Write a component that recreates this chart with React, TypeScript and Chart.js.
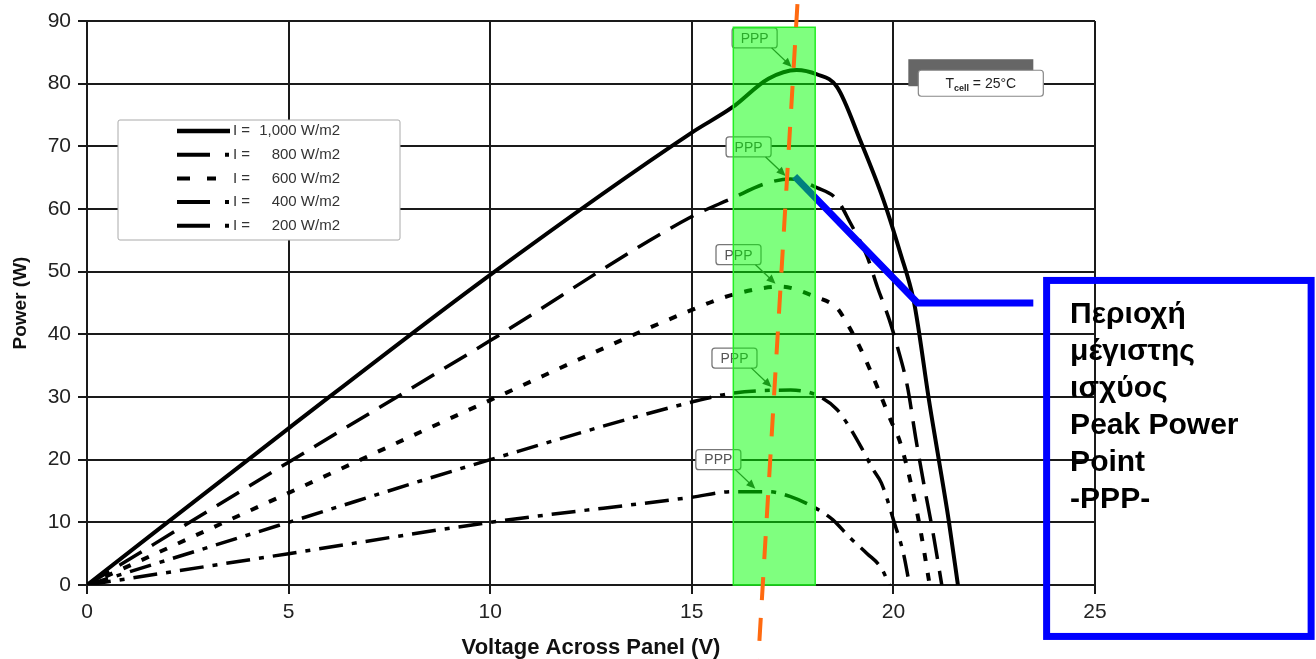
import React, { useEffect, useRef } from "react";
import { Chart, registerables } from "chart.js";

Chart.register(...registerables);

const FONT = "'Liberation Sans', Arial, Helvetica, sans-serif";

// Legend / irradiance levels
const irradiance = ["1,000", "800", "600", "400", "200"];

// Axis tick values
const xTicks = [0, 5, 10, 15, 20, 25];
const yTicks = [0, 10, 20, 30, 40, 50, 60, 70, 80, 90];

// Series: voltage (V) and power (W)
const v1000 = [0, 5, 10, 15, 16, 16.9, 17.6, 18.1, 18.6, 19.2, 19.75, 20.17, 20.5, 20.62, 20.87, 21.1, 21.37, 21.6];
const p1000 = [0, 25, 49.5, 72.2, 76.2, 80.8, 82.2, 81.5, 79.5, 70.6, 61.5, 53, 45.5, 41, 30, 21, 10.4, 0];

const v800 = [0, 5, 10, 15, 16, 16.8, 17.45, 18.1, 18.6, 18.93, 19.35, 19.6, 19.9, 20.1, 20.35, 20.55, 20.75, 21.0, 21.2];
const p800 = [0, 19.6, 39, 58.8, 61.7, 64, 64.8, 63.4, 61.5, 57.8, 52.4, 47.6, 42.3, 38, 31.6, 23.6, 16.3, 7.7, 0];

const v600 = [0, 5, 10, 15, 16, 17.2, 18.06, 18.6, 18.8, 19.2, 19.6, 19.9, 20.17, 20.47, 20.67, 20.9];
const p600 = [0, 14.7, 29.5, 43.9, 46.3, 47.6, 46, 44.2, 42.3, 37.5, 31.6, 26.8, 22.7, 15.2, 8.8, 0];

const v400 = [0, 5, 10, 15, 16, 17.45, 18.06, 18.6, 18.9, 19.2, 19.5, 19.7, 19.85, 20.0, 20.25, 20.4];
const p400 = [0, 10, 20, 29.2, 30.6, 31.1, 30.4, 28, 25.3, 22, 18.4, 16.3, 13.6, 10.4, 5, 0];

const v200 = [0, 5, 10, 15, 16, 16.9, 17.45, 18.0, 18.5, 18.9, 19.35, 19.7, 19.9];
const p200 = [0, 5, 10, 14, 14.9, 14.9, 14.1, 12.5, 10.4, 7.7, 5, 2.7, 0];

// Peak power point annotations
const pppV = [17.6, 17.45, 17.2, 17.1, 16.7];
const pppP = [82.2, 64.8, 47.6, 31.1, 14.9];

// Peak power region (green band)
const greenV = [16.03, 18.06];
const greenP = [0, 89];

// Orange MPP trend line end points
const orangeV = [17.62, 16.65];
const orangeP = [92.7, -11.8];

// Blue leader line to the callout
const leaderV = [17.55, 20.6, 23.47];
const leaderP = [65.2, 45, 45];

// Callout text
const calloutLines = ["Περιοχή", "μέγιστης", "ισχύος", "Peak Power", "Point", "-PPP-"];

const toPts = (v: number[], p: number[]) => v.map((x, i) => ({ x, y: p[i] }));

function rr(ctx: CanvasRenderingContext2D, x: number, y: number, w: number, h: number, r: number) {
  ctx.beginPath();
  ctx.moveTo(x + r, y);
  ctx.lineTo(x + w - r, y);
  ctx.quadraticCurveTo(x + w, y, x + w, y + r);
  ctx.lineTo(x + w, y + h - r);
  ctx.quadraticCurveTo(x + w, y + h, x + w - r, y + h);
  ctx.lineTo(x + r, y + h);
  ctx.quadraticCurveTo(x, y + h, x, y + h - r);
  ctx.lineTo(x, y + r);
  ctx.quadraticCurveTo(x, y, x + r, y);
  ctx.closePath();
}

export default function App() {
  const ref = useRef<HTMLCanvasElement>(null);

  useEffect(() => {
    const canvas = ref.current!;

    const overlay = {
      id: "overlay",
      afterDatasetsDraw(chart: any) {
        const { ctx, scales } = chart;
        const px = (v: number) => scales.x.getPixelForValue(v);
        const py = (v: number) => scales.y.getPixelForValue(v);
        ctx.save();

        // blue leader line
        ctx.beginPath();
        ctx.moveTo(px(leaderV[0]), py(leaderP[0]));
        for (let i = 1; i < leaderV.length; i++) ctx.lineTo(px(leaderV[i]), py(leaderP[i]));
        ctx.strokeStyle = "#0000ff";
        ctx.lineWidth = 7;
        ctx.lineJoin = "miter";
        ctx.setLineDash([]);
        ctx.stroke();

        // PPP labels with arrows
        for (let i = 0; i < pppV.length; i++) {
          const tx = px(pppV[i]) - 5;
          const ty = py(pppP[i]) - 3;
          const cx = tx - 37;
          const cy = ty - 29;
          const bw = 45, bh = 20;
          rr(ctx, cx - bw / 2, cy - bh / 2, bw, bh, 3);
          ctx.fillStyle = "#ffffff";
          ctx.fill();
          ctx.strokeStyle = "#777";
          ctx.lineWidth = 1.3;
          ctx.stroke();
          ctx.fillStyle = "#555";
          ctx.font = `14px ${FONT}`;
          ctx.textAlign = "center";
          ctx.textBaseline = "middle";
          ctx.fillText("PPP", cx, cy + 1);
          // arrow
          const sx = cx + 17, sy = cy + bh / 2;
          const ang = Math.atan2(ty - sy, tx - sx);
          ctx.beginPath();
          ctx.moveTo(sx, sy);
          ctx.lineTo(tx - 6 * Math.cos(ang), ty - 6 * Math.sin(ang));
          ctx.strokeStyle = "#444";
          ctx.lineWidth = 1.3;
          ctx.stroke();
          ctx.beginPath();
          ctx.moveTo(tx, ty);
          ctx.lineTo(tx - 9 * Math.cos(ang) + 4 * Math.sin(ang), ty - 9 * Math.sin(ang) - 4 * Math.cos(ang));
          ctx.lineTo(tx - 9 * Math.cos(ang) - 4 * Math.sin(ang), ty - 9 * Math.sin(ang) + 4 * Math.cos(ang));
          ctx.closePath();
          ctx.fillStyle = "#333";
          ctx.fill();
        }

        // green peak power region
        const gx0 = px(greenV[0]), gx1 = px(greenV[1]);
        const gy0 = py(greenP[1]), gy1 = py(greenP[0]);
        ctx.fillStyle = "rgba(0,255,0,0.5)";
        ctx.fillRect(gx0, gy0, gx1 - gx0, gy1 - gy0);
        ctx.strokeStyle = "#22ee22";
        ctx.lineWidth = 1.5;
        ctx.strokeRect(gx0, gy0, gx1 - gx0, gy1 - gy0);

        // orange dashed line
        ctx.beginPath();
        ctx.moveTo(px(orangeV[0]), py(orangeP[0]));
        ctx.lineTo(px(orangeV[1]), py(orangeP[1]));
        ctx.setLineDash([23, 18]);
        ctx.strokeStyle = "#ff6a10";
        ctx.lineWidth = 4;
        ctx.stroke();
        ctx.setLineDash([]);
        ctx.restore();
      },
      afterDraw(chart: any) {
        const { ctx, scales, chartArea } = chart;
        const px = (v: number) => scales.x.getPixelForValue(v);
        const py = (v: number) => scales.y.getPixelForValue(v);
        ctx.save();

        // Legend box
        const lx = chartArea.left + 31, ly = chartArea.top + 99;
        rr(ctx, lx, ly, 282, 120, 2);
        ctx.fillStyle = "#fff";
        ctx.fill();
        ctx.strokeStyle = "#aaa";
        ctx.lineWidth = 1;
        ctx.stroke();
        const legendDash = [[], [33, 15, 4, 30], [13, 17, 9, 30], [33, 15, 4, 30], [33, 15, 4, 30]];
        chart.data.datasets.forEach((ds: any, i: number) => {
          const cy = ly + 11 + i * 23.7;
          ctx.beginPath();
          ctx.moveTo(lx + 59, cy);
          ctx.lineTo(lx + (i === 0 ? 112 : 111), cy);
          ctx.setLineDash(legendDash[i]);
          ctx.strokeStyle = "#000";
          ctx.lineWidth = i === 0 ? 4.5 : 4;
          ctx.stroke();
          ctx.setLineDash([]);
          ctx.fillStyle = "#333";
          ctx.font = `15px ${FONT}`;
          ctx.textBaseline = "middle";
          ctx.textAlign = "left";
          ctx.fillText("I =", lx + 115, cy);
          ctx.textAlign = "right";
          ctx.fillText(`${irradiance[i]} W/m2`, lx + 222, cy);
        });

        // Tcell box
        const sx = px(20.37), sy = py(83.9);
        ctx.fillStyle = "#666";
        ctx.fillRect(sx, sy, 125, 27);
        rr(ctx, sx + 10, sy + 11, 125, 26, 3);
        ctx.fillStyle = "#fff";
        ctx.fill();
        ctx.strokeStyle = "#888";
        ctx.lineWidth = 1.2;
        ctx.stroke();
        ctx.fillStyle = "#222";
        ctx.textAlign = "left";
        ctx.textBaseline = "alphabetic";
        const base = sy + 29;
        ctx.font = `14px ${FONT}`;
        const t1 = "T", t3 = " = 25°C";
        ctx.font = `bold 9px ${FONT}`;
        const wSub = ctx.measureText("cell").width;
        ctx.font = `14px ${FONT}`;
        const w1 = ctx.measureText(t1).width, w3 = ctx.measureText(t3).width;
        let tx = sx + 10 + 62.5 - (w1 + wSub + w3) / 2;
        ctx.fillText(t1, tx, base);
        tx += w1;
        ctx.font = `bold 9px ${FONT}`;
        ctx.fillText("cell", tx, base + 3);
        tx += wSub;
        ctx.font = `14px ${FONT}`;
        ctx.fillText(t3, tx, base);

        // Callout box
        const bx = px(23.8), by = py(48.6);
        ctx.strokeStyle = "#0000ff";
        ctx.lineWidth = 7;
        ctx.strokeRect(bx, by, 264.5, 356);
        ctx.fillStyle = "#000";
        ctx.font = `bold 30px ${FONT}`;
        ctx.textAlign = "left";
        ctx.textBaseline = "alphabetic";
        calloutLines.forEach((t, i) => {
          ctx.fillText(t, bx + 23.5, by + 42.5 + i * 37);
        });
        ctx.restore();
      },
    };

    const common = { pointRadius: 0, fill: false, borderColor: "#000", cubicInterpolationMode: "monotone" as const };

    const chart = new Chart(canvas, {
      type: "line",
      data: {
        datasets: [
          { ...common, label: "I = 1,000 W/m2", data: toPts(v1000, p1000), borderWidth: 4, borderDash: [] },
          { ...common, label: "I = 800 W/m2", data: toPts(v800, p800), borderWidth: 3.5, borderDash: [26, 12] },
          { ...common, label: "I = 600 W/m2", data: toPts(v600, p600), borderWidth: 4, borderDash: [8, 12] },
          { ...common, label: "I = 400 W/m2", data: toPts(v400, p400), borderWidth: 3.5, borderDash: [22, 9, 5, 9] },
          { ...common, label: "I = 200 W/m2", data: toPts(v200, p200), borderWidth: 3.5, borderDash: [24, 9, 5, 9] },
        ],
      },
      options: {
        responsive: false,
        devicePixelRatio: 1,
        animation: false,
        layout: { padding: { left: 0, top: 21, right: 221, bottom: 0 } },
        plugins: { legend: { display: false }, tooltip: { enabled: false } },
        scales: {
          x: {
            type: "linear",
            min: 0,
            max: 25,
            afterBuildTicks: (s: any) => { s.ticks = xTicks.map((v) => ({ value: v })); },
            ticks: { color: "#222", font: { family: FONT, size: 21 }, padding: 6, maxRotation: 0, autoSkip: false },
            grid: { color: "#1a1a1a", lineWidth: 2, tickLength: 9 },
            border: { color: "#1a1a1a", width: 2 },
            title: {
              display: true,
              text: "Voltage Across Panel (V)",
              color: "#111",
              font: { family: FONT, size: 22, weight: "bold", lineHeight: 1 },
              padding: 0,
            },
            afterFit: (s: any) => { s.height = 74; },
          },
          y: {
            type: "linear",
            min: 0,
            max: 90,
            afterBuildTicks: (s: any) => { s.ticks = yTicks.map((v) => ({ value: v })); },
            ticks: { color: "#222", font: { family: FONT, size: 21 }, padding: 7, autoSkip: false },
            grid: { color: "#1a1a1a", lineWidth: 2, tickLength: 9 },
            border: { color: "#1a1a1a", width: 2 },
            title: {
              display: true,
              text: "Power (W)",
              color: "#111",
              font: { family: FONT, size: 19, weight: "bold", lineHeight: 1.2 },
              padding: { top: 9, bottom: 0 },
            },
            afterFit: (s: any) => { s.width = 87; },
          },
        },
      },
      plugins: [overlay],
    } as any);

    return () => chart.destroy();
  }, []);

  return (
    <div style={{ position: "fixed", left: 0, top: 0, width: 1316, height: 659, background: "#fff" }}>
      <canvas ref={ref} width={1316} height={659} style={{ display: "block", width: 1316, height: 659 }} />
    </div>
  );
}
